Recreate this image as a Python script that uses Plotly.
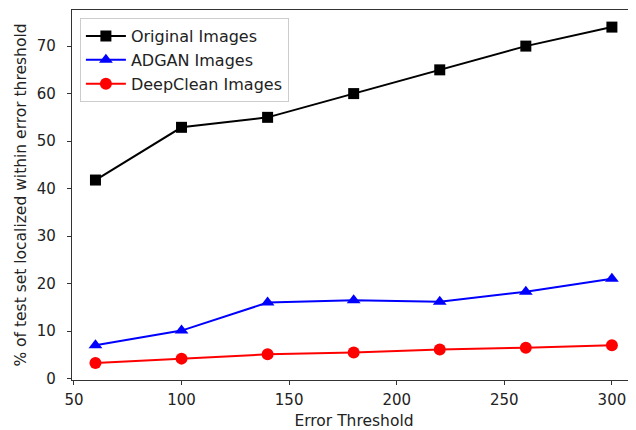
import plotly.graph_objects as go

thresholds = [60, 100, 140, 180, 220, 260, 300]
original = [41.8, 52.9, 55.0, 60.0, 65.0, 70.0, 74.0]
adgan = [7.0, 10.1, 16.0, 16.5, 16.2, 18.3, 21.0]
deepclean = [3.3, 4.2, 5.1, 5.5, 6.1, 6.5, 7.0]

xticks = [50, 100, 150, 200, 250, 300]
yticks = [0, 10, 20, 30, 40, 50, 60, 70]

fig = go.Figure()
fig.add_trace(go.Scatter(x=thresholds, y=original, mode="lines+markers", name="Original Images",
                         line=dict(color="black", width=2), marker=dict(symbol="square", size=11, color="black")))
fig.add_trace(go.Scatter(x=thresholds, y=adgan, mode="lines+markers", name="ADGAN Images",
                         line=dict(color="blue", width=2), marker=dict(symbol="triangle-up", size=12, color="blue")))
fig.add_trace(go.Scatter(x=thresholds, y=deepclean, mode="lines+markers", name="DeepClean Images",
                         line=dict(color="red", width=2), marker=dict(symbol="circle", size=12, color="red")))

axis_common = dict(showgrid=False, zeroline=False, showline=True, linecolor="#333", linewidth=1.2,
                   ticks="outside", ticklen=4, tickcolor="#333", automargin=False,
                   tickfont=dict(family="DejaVu Sans", size=15, color="#222"))
fig.update_layout(
    width=628, height=422,
    margin=dict(l=64, r=0, t=2, b=50, autoexpand=False),
    paper_bgcolor="white", plot_bgcolor="white",
    font=dict(family="DejaVu Sans", size=15, color="#222"),
    xaxis=dict(range=[49.1, 311.2], tickvals=xticks, mirror=True, ticklabelstandoff=2,
               title=dict(text="Error Threshold", standoff=8, font=dict(size=15.5)), **axis_common),
    yaxis=dict(range=[-0.3, 77.6], tickvals=yticks, mirror=False, ticklabelstandoff=8,
               title=dict(text="% of test set localized within error threshold", standoff=6,
                          font=dict(size=15.5)), **axis_common),
    legend=dict(x=0.014, y=0.978, xanchor="left", yanchor="top", bgcolor="rgba(255,255,255,0.8)",
                bordercolor="#ccc", borderwidth=1, font=dict(size=16), itemwidth=40, tracegroupgap=0),
    showlegend=True,
)
fig.write_html("out.html")
